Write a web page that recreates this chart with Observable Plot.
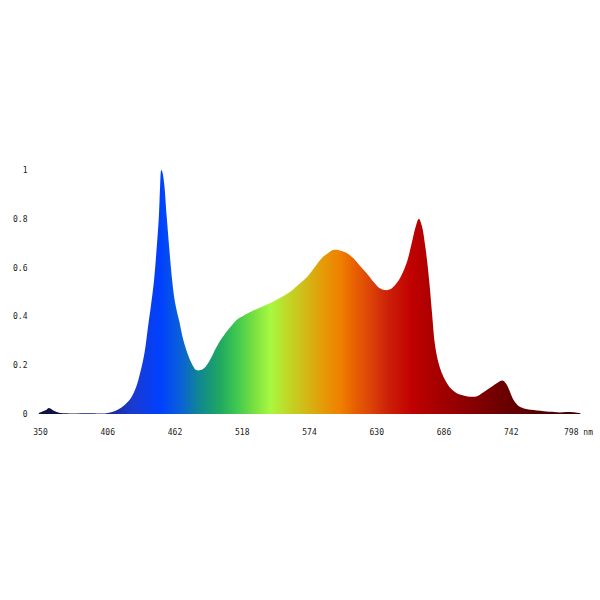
<!DOCTYPE html>
<html>
<head>
<meta charset="utf-8">
<script src="https://cdn.jsdelivr.net/npm/d3@7"></script>
<script src="https://cdn.jsdelivr.net/npm/@observablehq/plot@0.6"></script>
<style>
  html, body { margin: 0; padding: 0; background: #fff; }
</style>
</head>
<body>
<div id="chart"></div>
<script>
// Wavelength (nm) and relative intensity
const wavelengths = [349,352,355,357,359,362,366,370,380,390,400,405,410,415,420,425,430,434,437,440,442,445,447,449,450,451,452,453.5,455.5,457.8,460,462,464,466,469,472,476,480,484,488,492,496,500,505,510,515,520,528,535,542,548,553,558,564,570,575,580,586,590,594,598,603,607,611,616,622,628,633,637,641,645,649,653,656,660,663,665.5,668,671,674,676.5,679,683,689,693,697,701,706,714,718,722,727,731,735,738,741,744,748,753,761,772,778,783,788,794,800];
const intensity = [0.004,0.01,0.016,0.024,0.022,0.012,0.005,0.003,0.002,0.003,0.002,0.003,0.008,0.018,0.035,0.06,0.11,0.18,0.25,0.36,0.43,0.55,0.67,0.81,0.93,1.0,0.99,0.94,0.81,0.67,0.55,0.47,0.42,0.38,0.31,0.26,0.21,0.18,0.18,0.195,0.225,0.265,0.30,0.335,0.365,0.39,0.405,0.425,0.44,0.455,0.47,0.485,0.50,0.525,0.55,0.577,0.61,0.645,0.66,0.672,0.672,0.665,0.655,0.638,0.61,0.577,0.54,0.515,0.508,0.51,0.525,0.55,0.59,0.63,0.71,0.77,0.80,0.77,0.68,0.55,0.41,0.28,0.19,0.125,0.10,0.085,0.078,0.072,0.073,0.085,0.098,0.115,0.128,0.137,0.125,0.095,0.06,0.035,0.023,0.016,0.01,0.008,0.006,0.008,0.007,0.003];

// Tick values
const xTicks = [350,406,462,518,574,630,686,742,798];
const yTicks = [0,0.2,0.4,0.6,0.8,1];

// Spectrum colour stops (wavelength -> colour)
const stopNm = [350,380,410,427,450,467,483,500,514,528,542,556,570,585,600,612,625,640,660,683,705,735,760,800];
const stopColor = ["#101040","#101850","#1a2aa0","#1a3ad0","#0040ff","#0a60d8","#108890","#20a860","#40c850","#78e040","#a8f840","#c0d828","#d0bc18","#e49c08","#f08000","#e86000","#dc4408","#cc2008","#c00000","#a40000","#8c0000","#6c0000","#580000","#400000"];

const data = wavelengths.map((w, i) => ({nm: w, v: intensity[i]}));

const plot = Plot.plot({
  width: 600,
  height: 600,
  marginTop: 170,
  marginBottom: 186,
  marginLeft: 40,
  marginRight: 22,
  style: {fontFamily: "'DejaVu Sans Mono', monospace", fontSize: "8px", color: "#222", background: "#fff"},
  x: {
    domain: [350, 798],
    ticks: xTicks,
    tickSize: 0,
    tickPadding: 15,
    tickFormat: d => d === 798 ? "798 nm" : String(d),
    label: null
  },
  y: {
    domain: [0, 1],
    ticks: yTicks,
    tickSize: 0,
    tickPadding: 13,
    tickFormat: d => String(d),
    label: null
  },
  marks: [
    Plot.areaY(data, {x: "nm", y: "v", fill: "url(#spectrum)", curve: "catmull-rom"})
  ]
});

// Build the horizontal spectrum gradient from the x scale
const xs = plot.scale("x");
const x0 = xs.apply(stopNm[0]);
const x1 = xs.apply(stopNm[stopNm.length - 1]);
const svg = d3.select(plot.tagName.toLowerCase() === "svg" ? plot : plot.querySelector("svg"));
const grad = svg.insert("defs", ":first-child")
  .append("linearGradient")
  .attr("id", "spectrum")
  .attr("gradientUnits", "userSpaceOnUse")
  .attr("x1", x0).attr("x2", x1)
  .attr("y1", 0).attr("y2", 0);
stopNm.forEach((w, i) => {
  grad.append("stop")
    .attr("offset", (xs.apply(w) - x0) / (x1 - x0))
    .attr("stop-color", stopColor[i]);
});

document.getElementById("chart").appendChild(plot);
</script>
</body>
</html>
